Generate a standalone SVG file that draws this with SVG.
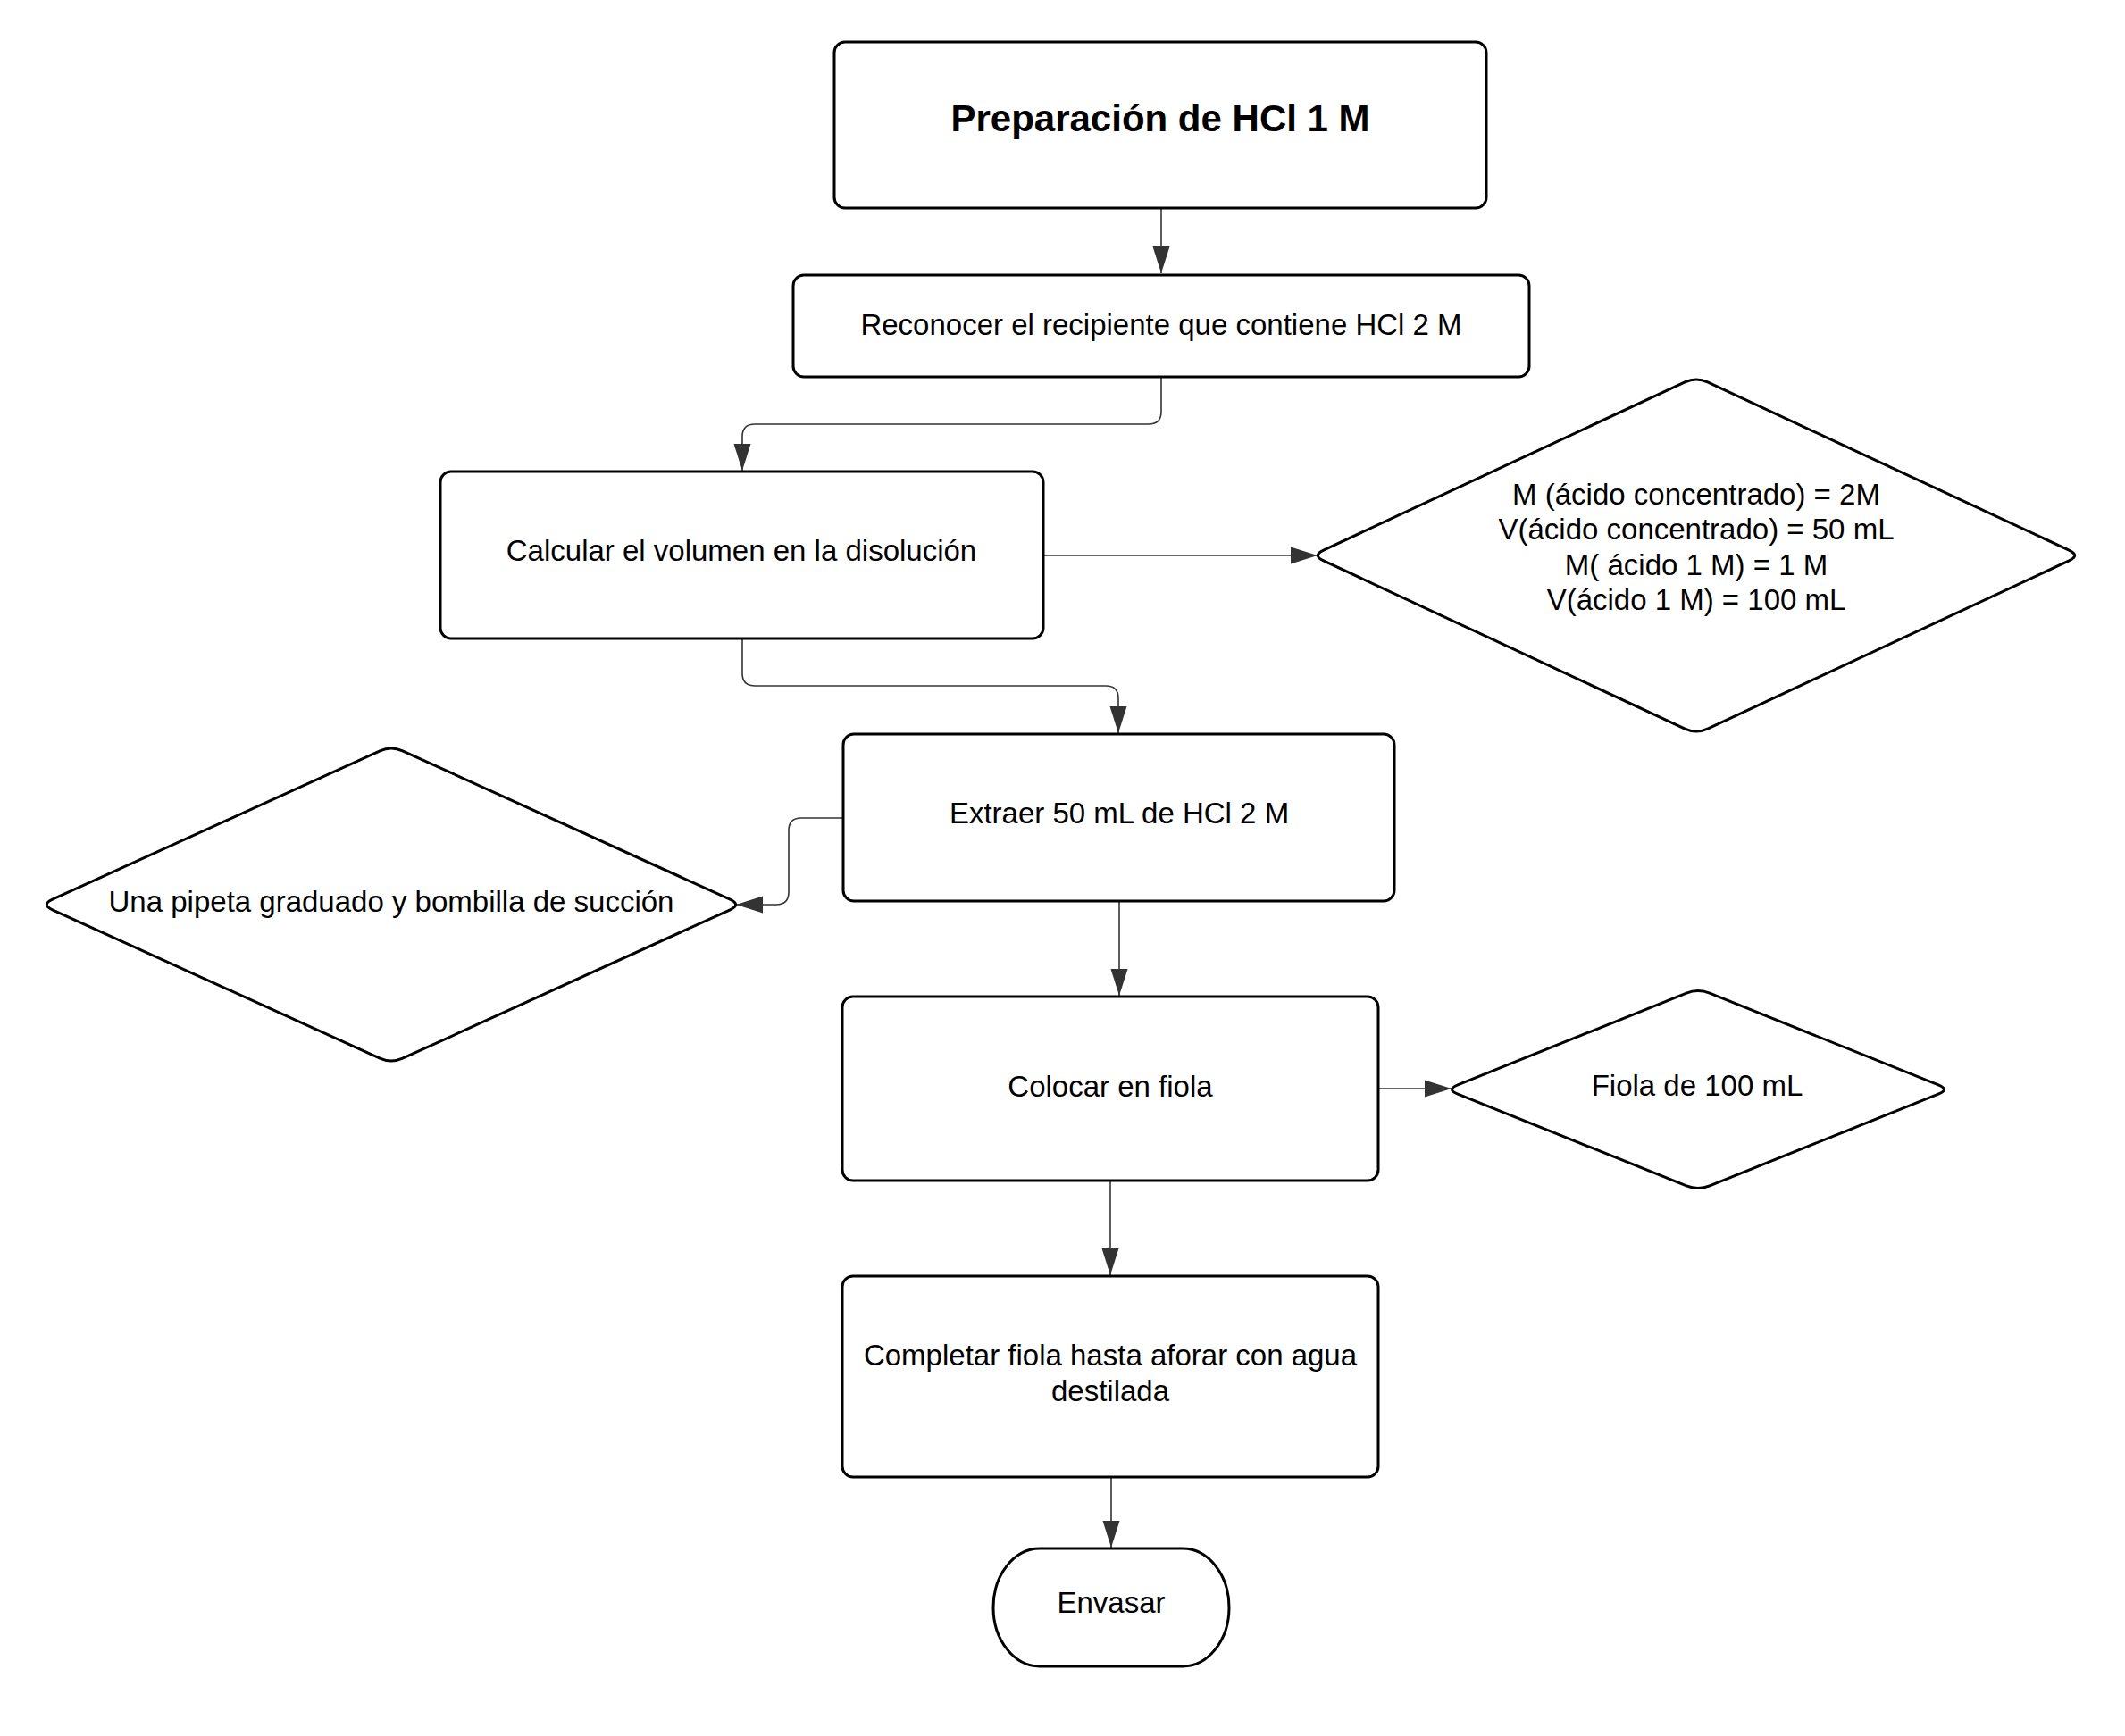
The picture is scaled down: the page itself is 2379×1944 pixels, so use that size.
<svg xmlns="http://www.w3.org/2000/svg" width="2379" height="1944" viewBox="0 0 2379 1944">
<style>
.box{fill:#fff;stroke:#000;stroke-width:3}
.t{font-family:"Liberation Sans",Arial,sans-serif;font-size:33px;fill:#000;text-anchor:middle}
.tb{font-family:"Liberation Sans",Arial,sans-serif;font-size:42px;font-weight:bold;fill:#000;text-anchor:middle}
.c{fill:none;stroke:#333;stroke-width:1.6}
</style>
<defs>
<marker id="ah" markerUnits="userSpaceOnUse" markerWidth="30" markerHeight="20" viewBox="0 0 30 20" refX="30" refY="10" orient="auto">
<path d="M0,0.5 L30,10 L0,19.5 Z" fill="#333"/>
</marker>
</defs>
<rect width="2379" height="1944" fill="#fff"/>
<g id="connectors">
<path class="c" d="M1300,233 L1300,306" marker-end="url(#ah)"/>
<path class="c" d="M1300,422 L1300,461 Q1300,475 1286,475 L845,475 Q831,475 831,489 L831,527" marker-end="url(#ah)"/>
<path class="c" d="M1168,622 L1475,622" marker-end="url(#ah)"/>
<path class="c" d="M831,715 L831,754 Q831,768 845,768 L1238,768 Q1252,768 1252,782 L1252,821" marker-end="url(#ah)"/>
<path class="c" d="M944,916 L897,916 Q883,916 883,930 L883,999 Q883,1013 869,1013 L824,1013" marker-end="url(#ah)"/>
<path class="c" d="M1253,1009 L1253,1115" marker-end="url(#ah)"/>
<path class="c" d="M1243,1322 L1243,1428" marker-end="url(#ah)"/>
<path class="c" d="M1543,1219 L1625,1219" marker-end="url(#ah)"/>
<path class="c" d="M1244,1654 L1244,1733" marker-end="url(#ah)"/>
</g>
<g id="n-title">
<rect class="box" x="934" y="47" width="730" height="186" rx="12"/>
<text class="tb" x="1299" y="147">Preparación de HCl 1 M</text>
</g>
<g id="n-reconocer">
<rect class="box" x="888" y="308" width="824" height="114" rx="12"/>
<text class="t" x="1300" y="375">Reconocer el recipiente que contiene HCl 2 M</text>
</g>
<g id="n-calcular">
<rect class="box" x="493" y="528" width="675" height="187" rx="12"/>
<text class="t" x="830" y="628">Calcular el volumen en la disolución</text>
</g>
<g id="n-datos">
<path class="box" d="M1481.7,616.1 L1886.3,427.9 Q1899,422 1911.7,427.9 L2316.3,616.1 Q2329,622 2316.3,627.9 L1911.7,816.1 Q1899,822 1886.3,816.1 L1481.7,627.9 Q1469,622 1481.7,616.1 Z"/>
<text class="t" x="1899" y="565">M (ácido concentrado) = 2M</text>
<text class="t" x="1899" y="604">V(ácido concentrado) = 50 mL</text>
<text class="t" x="1899" y="644">M( ácido 1 M) = 1 M</text>
<text class="t" x="1899" y="683">V(ácido 1 M) = 100 mL</text>
</g>
<g id="n-extraer">
<rect class="box" x="944" y="822" width="617" height="187" rx="12"/>
<text class="t" x="1253" y="922">Extraer 50 mL de HCl 2 M</text>
</g>
<g id="n-pipeta">
<path class="box" d="M58.7,1007.2 L425.3,840.8 Q438,835 450.7,840.8 L817.3,1007.2 Q830,1013 817.3,1018.8 L450.7,1185.2 Q438,1191 425.3,1185.2 L58.7,1018.8 Q46,1013 58.7,1007.2 Z"/>
<text class="t" x="438" y="1021">Una pipeta graduado y bombilla de succión</text>
</g>
<g id="n-colocar">
<rect class="box" x="943" y="1116" width="600" height="206" rx="12"/>
<text class="t" x="1243" y="1228">Colocar en fiola</text>
</g>
<g id="n-fiola">
<path class="box" d="M1632,1214.8 L1888,1112.2 Q1901,1107 1914,1112.2 L2170,1214.8 Q2183,1220 2170,1225.2 L1914,1327.8 Q1901,1333 1888,1327.8 L1632,1225.2 Q1619,1220 1632,1214.8 Z"/>
<text class="t" x="1900" y="1227">Fiola de 100 mL</text>
</g>
<g id="n-completar">
<rect class="box" x="943" y="1429" width="600" height="225" rx="12"/>
<text class="t" x="1243" y="1529">Completar fiola hasta aforar con agua</text>
<text class="t" x="1243" y="1569">destilada</text>
</g>
<g id="n-envasar">
<rect class="box" x="1112" y="1734" width="264" height="132" rx="52" ry="66"/>
<text class="t" x="1244" y="1806">Envasar</text>
</g>
</svg>
